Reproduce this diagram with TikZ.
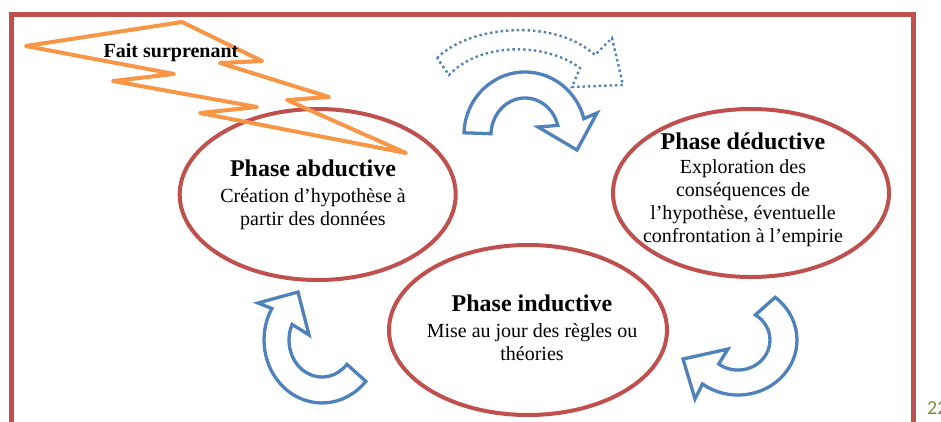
\documentclass[tikz,border=0pt]{standalone}
\usepackage{fontspec}
\setmainfont{Liberation Serif}
\newfontfamily\pagenumfont{Carlito}
\usetikzlibrary{shapes.geometric}
\definecolor{framered}{HTML}{C0504D}
\definecolor{boltorange}{HTML}{F79646}
\definecolor{arrowblue}{HTML}{4F81BD}
\definecolor{pagegreen}{HTML}{77933C}

\begin{document}
\begin{tikzpicture}[x=1pt,y=-1pt,
  phase/.style={ellipse, draw=framered, line width=4pt, inner sep=0pt},
  phasetext/.style={align=center, font=\fontsize{20}{23}\selectfont, inner sep=0pt},
  cyclearrow/.style={draw=arrowblue, line width=3.3pt, fill=white, line join=miter},
  hintarrow/.style={draw=arrowblue, line width=2.4pt, dash pattern=on 2.4pt off 3pt},
  bolt/.style={draw=boltorange, line width=4pt, line join=round}]

% page area and outer frame
\fill[white] (0,0) rectangle (941,421);
\useasboundingbox (0,0) rectangle (941,421);
\draw[framered, line width=4.4pt] (11.5,440) -- (11.5,14.5) -- (913.5,14.5) -- (913.5,440);

% the three phases
\node[phase, minimum width=276pt, minimum height=171pt] (abd) at (317.7,194.5) {};
\node[phase, minimum width=278pt, minimum height=170pt] (ind) at (528,330) {};
\node[phase, minimum width=276pt, minimum height=168pt] (ded) at (751,193) {};

% lightning bolt
\draw[bolt] (26,46) -- (182,22) -- (262,61) -- (220,63) -- (329,97) -- (287,100)
  -- (406,153) -- (200,113) -- (257,107) -- (113,81) -- (174,74) -- cycle;
\node[font=\fontsize{20}{20}\selectfont\bfseries, inner sep=0pt] (fait) at (171,53) {Fait surprenant};

% phase texts
\node[phasetext] (abdtext) at (313,195)
  {{\fontsize{24}{26}\selectfont\bfseries Phase abductive}\\[3pt]Création d’hypothèse à\\partir des données};
\node[phasetext] (indtext) at (532,328)
  {{\fontsize{24}{26}\selectfont\bfseries Phase inductive}\\[3pt]Mise au jour des règles ou\\théories};
\node[phasetext] (dedtext) at (743,190)
  {{\fontsize{24}{26}\selectfont\bfseries Phase déductive}\\[1pt]Exploration des\\conséquences de\\l’hypothèse, éventuelle\\confrontation à l’empirie};

% dotted hint arrow above the cycle
\draw[hintarrow] (437,58) .. controls (470,25) and (555,18) .. (595,55) -- (612,38)
  -- (623,85) -- (572,87) -- (580,68) .. controls (545,42) and (480,42) .. (449,75) -- cycle;

% cycle arrows: abductive -> deductive
\draw[cyclearrow] (464.0,132.8) arc[start angle=182, end angle=345, x radius=61, y radius=63]
  -- (597,113) -- (577,150) -- (538,127) -- (557.8,125.4)
  arc[start angle=345, end angle=182, x radius=34, y radius=37] -- cycle;
% deductive -> inductive
\draw[cyclearrow] (775.1,297.3) arc[start angle=-51, end angle=127, x radius=59, y radius=55]
  -- (695,399) -- (683,359) -- (728,349) -- (718.7,364.0)
  arc[start angle=127, end angle=-57, x radius=32, y radius=30] -- cycle;
% inductive -> abductive
\draw[cyclearrow] (365.8,381.3) arc[start angle=41, end angle=210, x radius=58, y radius=63]
  -- (258,303) -- (298,292) -- (309,335) -- (292.1,324.4)
  arc[start angle=205, end angle=41, x radius=33, y radius=37] -- cycle;

% page number, running off the right edge
\node[anchor=west, inner sep=0pt, text=pagegreen, font=\pagenumfont\fontsize{20}{20}\selectfont] (pagenum) at (927,408.5) {22};
\end{tikzpicture}
\end{document}
